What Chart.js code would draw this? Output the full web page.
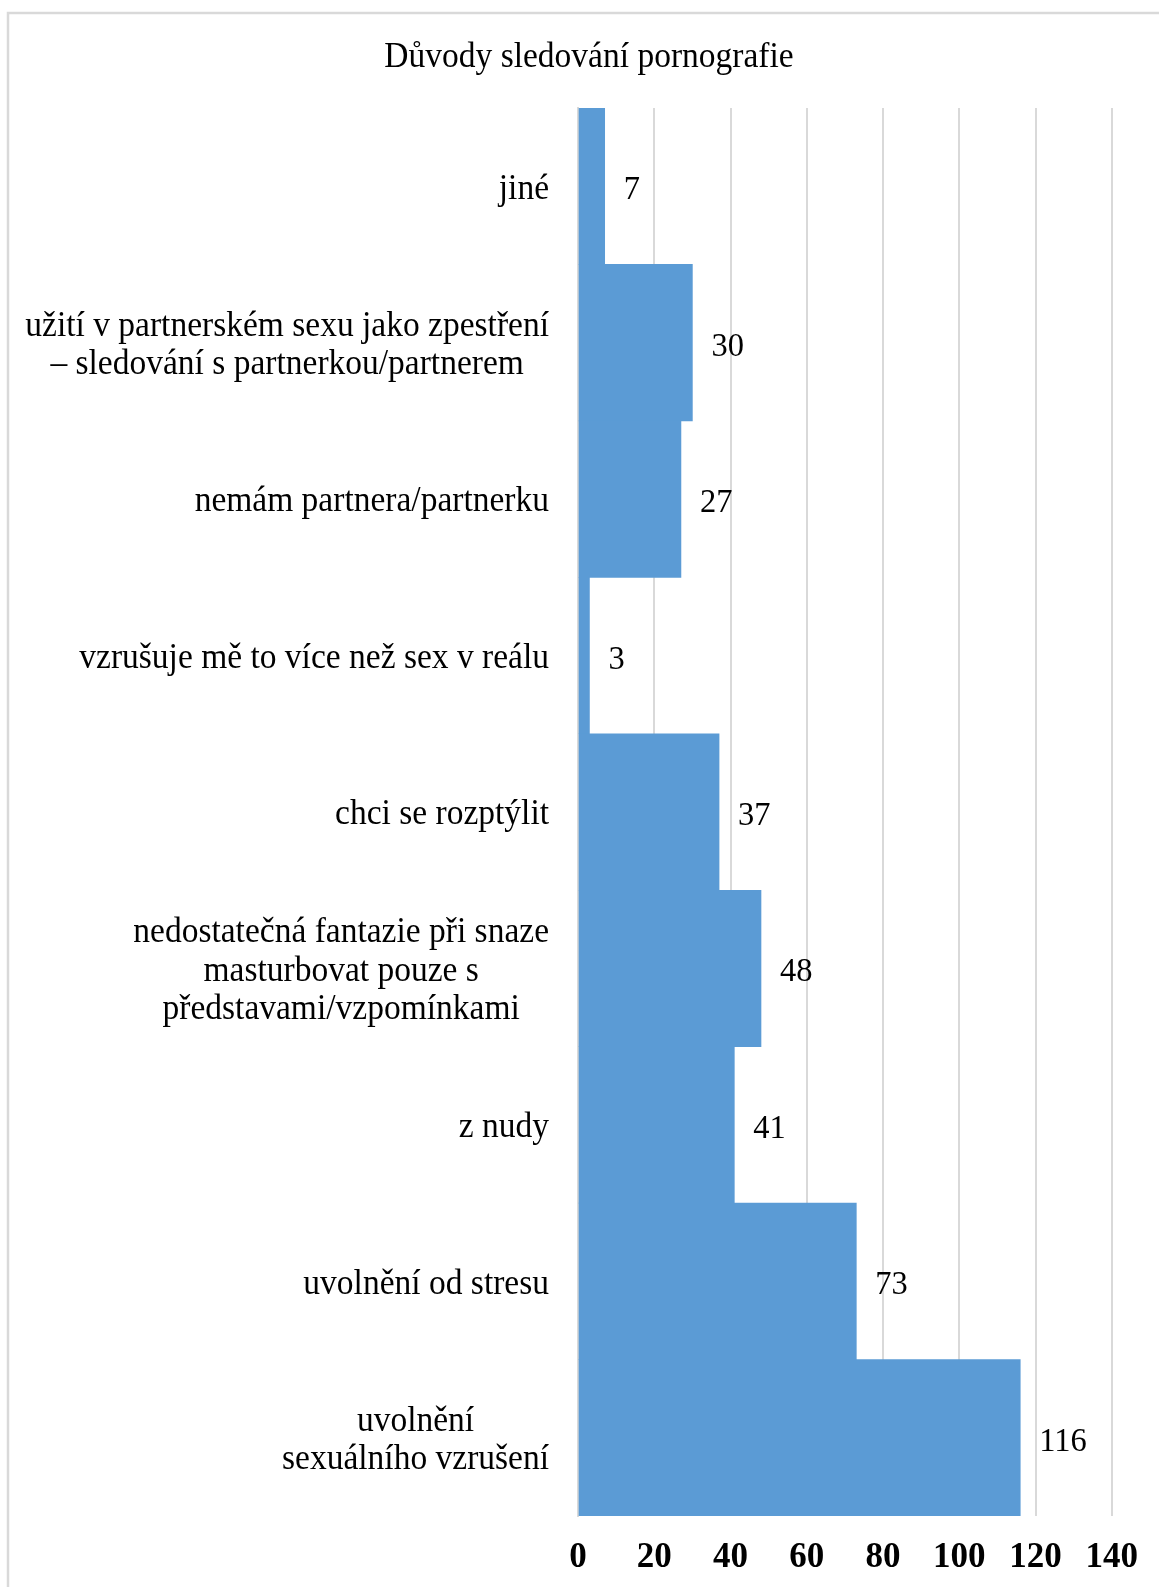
<!DOCTYPE html>
<html>
<head>
<meta charset="utf-8">
<script src="https://cdn.jsdelivr.net/npm/chart.js@4"></script>
<style>
  html, body { margin: 0; padding: 0; background: #fff; overflow: hidden; }
  canvas { display: block; }
</style>
</head>
<body>
<canvas id="reasonsChart" width="1159" height="1587" style="width:1159px;height:1587px"></canvas>
<script>
const chartTitle = "Důvody sledování pornografie";
const categories = [
  ["jiné"],
  ["užití v partnerském sexu jako zpestření", "– sledování s partnerkou/partnerem"],
  ["nemám partnera/partnerku"],
  ["vzrušuje mě to více než sex v reálu"],
  ["chci se rozptýlit"],
  ["nedostatečná fantazie při snaze", "masturbovat pouze s", "představami/vzpomínkami"],
  ["z nudy"],
  ["uvolnění od stresu"],
  ["uvolnění", "sexuálního vzrušení"]
];
const counts = [7, 30, 27, 3, 37, 48, 41, 73, 116];
const xTicks = [0, 20, 40, 60, 80, 100, 120, 140];

const FONT = "'Liberation Serif', 'Times New Roman', serif";
const STRETCH = 1.06; // reference text is a bit taller than wide

function tallText(ctx, text, x, y) {
  ctx.save();
  ctx.translate(x, y);
  ctx.scale(1, STRETCH);
  ctx.fillText(text, 0, 0);
  ctx.restore();
}

// frame + title
const framePlugin = {
  id: "frame",
  beforeDraw(chart) {
    const ctx = chart.ctx;
    ctx.save();
    ctx.strokeStyle = "#d9d9d9";
    ctx.lineWidth = 2.5;
    ctx.strokeRect(8, 13, chart.width + 20, chart.height + 20);
    ctx.font = "33.5px " + FONT;
    ctx.fillStyle = "#000";
    ctx.textAlign = "center";
    ctx.textBaseline = "middle";
    tallText(ctx, chartTitle, 589, 58);
    ctx.restore();
  }
};

// category labels: block right aligned, lines centered inside the block
const labelPlugin = {
  id: "catLabels",
  afterDraw(chart) {
    const ctx = chart.ctx;
    const y = chart.scales.y;
    const right = chart.chartArea.left - 29;
    const lineH = 38.5;
    ctx.save();
    ctx.font = "33.5px " + FONT;
    ctx.fillStyle = "#000";
    ctx.textAlign = "center";
    ctx.textBaseline = "middle";
    categories.forEach((lines, i) => {
      const w = Math.max(...lines.map(l => ctx.measureText(l).width));
      const cx = right - w / 2;
      const cy = y.getPixelForValue(i) + 3;
      lines.forEach((l, j) => {
        tallText(ctx, l, cx, cy + (j - (lines.length - 1) / 2) * lineH);
      });
    });
    ctx.restore();
  }
};

// value labels at the end of each bar
const valuePlugin = {
  id: "values",
  afterDatasetsDraw(chart) {
    const ctx = chart.ctx;
    const meta = chart.getDatasetMeta(0);
    ctx.save();
    ctx.font = "32.5px " + FONT;
    ctx.fillStyle = "#000";
    ctx.textAlign = "left";
    ctx.textBaseline = "middle";
    meta.data.forEach((bar, i) => {
      tallText(ctx, String(counts[i]), bar.x + 19, bar.y + 4);
    });
    ctx.restore();
  }
};

new Chart(document.getElementById("reasonsChart").getContext("2d"), {
  type: "bar",
  data: {
    labels: categories.map(c => c.join(" ")),
    datasets: [{
      data: counts,
      backgroundColor: "#5b9bd5",
      borderWidth: 0,
      barPercentage: 1,
      categoryPercentage: 1
    }]
  },
  options: {
    indexAxis: "y",
    responsive: false,
    devicePixelRatio: 1,
    animation: false,
    layout: { padding: { left: 0, right: 44, top: 108, bottom: 0 } },
    plugins: {
      legend: { display: false },
      tooltip: { enabled: false },
      title: { display: false }
    },
    scales: {
      x: {
        min: 0,
        max: 140,
        afterBuildTicks: s => { s.ticks = xTicks.map(v => ({ value: v })); },
        grid: { color: "#d9d9d9", lineWidth: 2, drawTicks: false },
        border: { display: false },
        ticks: {
          color: "#000",
          padding: 21,
          font: { family: FONT, size: 35, weight: "bold" }
        },
        afterFit: s => { s.height = 71; }
      },
      y: {
        grid: { display: false },
        border: { display: true, color: "#d9d9d9", width: 2 },
        ticks: { display: false },
        afterFit: s => { s.width = 578; }
      }
    }
  },
  plugins: [framePlugin, labelPlugin, valuePlugin]
});
</script>
</body>
</html>
